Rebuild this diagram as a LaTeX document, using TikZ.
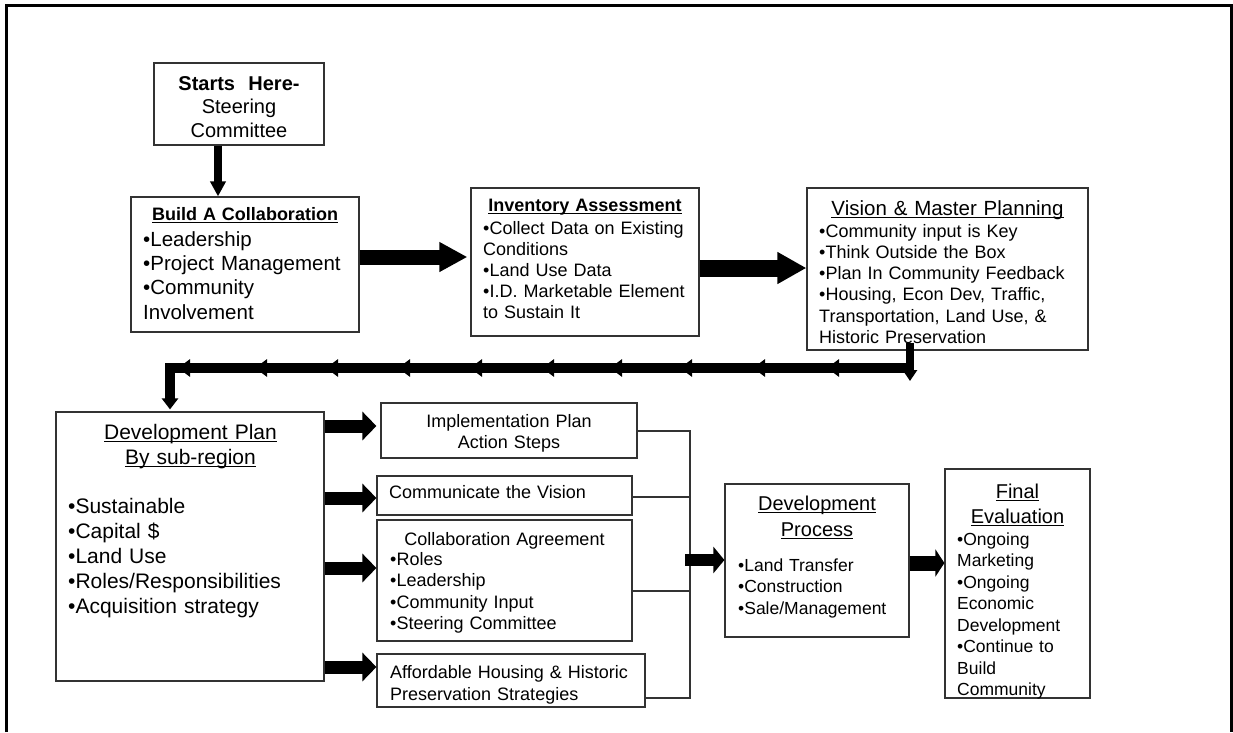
\documentclass[tikz,border=0pt]{standalone}
\usepackage{fontspec}
\setmainfont{Liberation Sans}
\usetikzlibrary{arrows.meta,decorations.markings}
\newcommand\fsz[2]{\fontsize{#1}{#2}\selectfont}
\newcommand\ulx[1]{\leavevmode\setbox0\hbox{#1}\rlap{\rule[-3pt]{\wd0}{1.2pt}}\box0}
\begin{document}
\begin{tikzpicture}[x=1pt,y=-1pt,
  box/.style={draw=black!80, line width=1.2pt, inner sep=0pt},
  ttl/.style={inner sep=0pt, anchor=base, align=center, text width=300pt},
  txt/.style={inner sep=0pt, anchor=base west, align=left, text width=300pt},
  barrow/.style n args={3}{line width=#1, -{Triangle[length=#3,width=#2]}},
  thinln/.style={draw=black!80, line width=1.2pt},
  smtip/.style={-{Triangle[length=12pt,width=17pt]}},
  retmarks/.style={postaction={decorate, decoration={markings,
     mark=at position 79pt with {\arrow{Triangle[length=12pt,width=17pt]}},
     mark=at position 153pt with {\arrow{Triangle[length=12pt,width=17pt]}},
     mark=at position 226pt with {\arrow{Triangle[length=12pt,width=17pt]}},
     mark=at position 296pt with {\arrow{Triangle[length=12pt,width=17pt]}},
     mark=at position 364pt with {\arrow{Triangle[length=12pt,width=17pt]}},
     mark=at position 436pt with {\arrow{Triangle[length=12pt,width=17pt]}},
     mark=at position 508pt with {\arrow{Triangle[length=12pt,width=17pt]}},
     mark=at position 580pt with {\arrow{Triangle[length=12pt,width=17pt]}},
     mark=at position 651pt with {\arrow{Triangle[length=12pt,width=17pt]}},
     mark=at position 728pt with {\arrow{Triangle[length=12pt,width=17pt]}}}}}
]
\useasboundingbox (0,0) rectangle (1233,732);
% frame
\draw[line width=3pt] (6.5,732) -- (6.5,5.5) -- (1231.5,5.5) -- (1231.5,732);

% boxes
\node[box, minimum width=170pt, minimum height=82pt]  (starts)  at (239,104) {};
\node[box, minimum width=228pt, minimum height=135pt] (build)   at (245,264.5) {};
\node[box, minimum width=228pt, minimum height=148pt] (inv)     at (585,262) {};
\node[box, minimum width=281pt, minimum height=162pt] (vision)  at (947.5,269) {};
\node[box, minimum width=268pt, minimum height=269pt] (devplan) at (190,546.5) {};
\node[box, minimum width=256pt, minimum height=55pt]  (impl)    at (509,430.5) {};
\node[box, minimum width=255pt, minimum height=39pt]  (comm)    at (504.5,495.5) {};
\node[box, minimum width=255pt, minimum height=121pt] (collab)  at (504.5,580.5) {};
\node[box, minimum width=268pt, minimum height=53pt]  (afford)  at (511,680.5) {};
\node[box, minimum width=184pt, minimum height=153pt] (devproc) at (817,560.5) {};
\node[box, minimum width=145pt, minimum height=229pt] (final)   at (1017.5,583.5) {};

% texts
\node[ttl, font=\fsz{20}{23.5}] (startsT) at (239,90) {\textbf{Starts\ \ Here-}\\Steering\\Committee};
\node[ttl, font=\fsz{18}{22}] (buildT) at (245,220) {\textbf{\ulx{Build A Collaboration}}};
\node[txt, font=\fsz{20.5}{24.2}] (buildB) at (143,246.5) {•Leadership\\•Project Management\\•Community\\Involvement};
\node[ttl, font=\fsz{18}{21}] (invT) at (585,211) {\textbf{\ulx{Inventory Assessment}}};
\node[txt, font=\fsz{18}{21}] (invB) at (483,234) {\makebox[205pt][s]{•Collect Data on Existing}\\Conditions\\•Land Use Data\\•I.D. Marketable Element\\to Sustain It};
\node[ttl, font=\fsz{20.5}{22}] (visT) at (947.5,215) {\ulx{Vision \& Master Planning}};
\node[txt, font=\fsz{18}{21.3}] (visB) at (819,237) {•Community input is Key\\•Think Outside the Box\\•Plan In Community Feedback\\•Housing, Econ Dev, Traffic,\\Transportation, Land Use, \&\\Historic Preservation};
\node[ttl, font=\fsz{21}{25}] (devT) at (190.5,439) {\ulx{Development Plan}\\\ulx{By sub-region}};
\node[txt, font=\fsz{21}{25}] (devB) at (68,513) {•Sustainable\\•Capital \$\\•Land Use\\•Roles/Responsibilities\\•Acquisition strategy};
\node[ttl, font=\fsz{18}{21}] (implT) at (509,427) {Implementation Plan\\Action Steps};
\node[txt, font=\fsz{18}{21}] (commT) at (389,498) {Communicate the Vision};
\node[ttl, font=\fsz{18}{21}] (collT) at (504.5,545) {Collaboration Agreement};
\node[txt, font=\fsz{18}{21.6}] (collB) at (390,565) {•Roles\\•Leadership\\•Community Input\\•Steering Committee};
\node[txt, font=\fsz{18}{22}] (affT) at (390,678) {Affordable Housing \& Historic\\Preservation Strategies};
\node[ttl, font=\fsz{20}{26}] (dpT) at (817,510) {\ulx{Development}\\\ulx{Process}};
\node[txt, font=\fsz{17.5}{21.5}] (dpB) at (738,571) {•Land Transfer\\•Construction\\•Sale/Management};
\node[ttl, font=\fsz{20}{25}] (feT) at (1017.5,498) {\ulx{Final}\\\ulx{Evaluation}};
\node[txt, font=\fsz{17.5}{21.5}] (feB) at (957,545) {•Ongoing\\Marketing\\•Ongoing\\Economic\\Development\\•Continue to\\Build\\Community};

% block arrows
\coordinate (a1) at ([xshift=-21pt]starts.south);
\draw[barrow={8pt}{15pt}{15pt}] (a1) -- (a1 |- build.north);
\coordinate (a2) at ([yshift=7.5pt]build.east);
\draw[barrow={15pt}{28pt}{28pt}, shorten >=3pt] (a2) -- (a2 -| inv.west);
\coordinate (a3) at ([yshift=-6pt]inv.east);
\draw[barrow={17pt}{30pt}{29pt}] (a3) -- (a3 -| vision.west);

% return path
\coordinate (v1) at ([xshift=-37.5pt,yshift=8pt]vision.south);
\coordinate (v2) at (910,381);
\draw[line width=8pt, -{Triangle[length=11pt,width=14pt]}] (v1) -- (v2);
\coordinate (rs) at (906,368);
\coordinate (rc) at (170,368);
\draw[line width=10pt, retmarks, shorten >=2pt, -{Triangle[length=11pt,width=16pt]}] (rs) -- (rc) -- (rc |- devplan.north);

% devplan to middle boxes
\coordinate (d1) at ([yshift=120.5pt]devplan.east);
\coordinate (d2) at ([yshift=48.5pt]devplan.east);
\coordinate (d3) at ([yshift=-21.5pt]devplan.east);
\coordinate (d4) at ([yshift=-120.5pt]devplan.east);
\draw[barrow={13pt}{28pt}{14pt}, shorten >=4pt] (d1) -- (d1 -| impl.west);
\draw[barrow={13pt}{28pt}{14pt}] (d2) -- (d2 -| comm.west);
\draw[barrow={13pt}{28pt}{14pt}] (d3) -- (d3 -| collab.west);
\draw[barrow={13pt}{28pt}{14pt}] (d4) -- (d4 -| afford.west);

% joining lines
\coordinate (jt) at (690,431);
\coordinate (jb) at (690,698);
\draw[thinln] (impl.east |- jt) -- (jt) -- (jb) -- (afford.east |- jb);
\draw[thinln] ([yshift=-1.5pt]comm.east) -- ([yshift=-1.5pt]comm.east -| jt);
\coordinate (c3) at ([yshift=-10.5pt]collab.east);
\draw[thinln] (c3) -- (c3 -| jt);

\coordinate (jm) at (685,560);
\draw[barrow={12pt}{26pt}{11pt}] (jm) -- (jm -| devproc.west);
\coordinate (e1) at ([yshift=-2.5pt]devproc.east);
\draw[barrow={15pt}{27pt}{9pt}] (e1) -- (e1 -| final.west);
\end{tikzpicture}
\end{document}
